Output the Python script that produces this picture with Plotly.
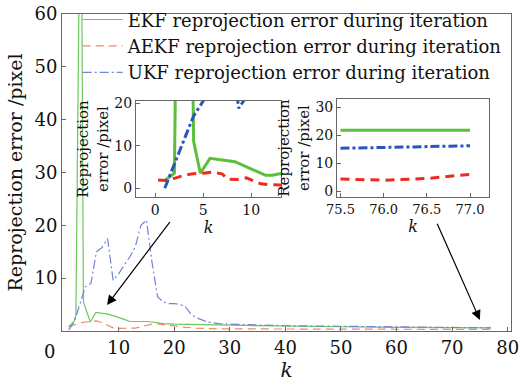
import plotly.graph_objects as go

# ---- main plot: reprojection error per iteration k ----
ekf_k = [1, 2, 2.3, 3.2, 3.65, 4.9, 5.9, 7, 8, 9, 10, 11, 12, 13, 14, 15, 16, 18, 20, 22, 25, 30, 35, 40, 50, 60, 70, 77]
ekf_err = [0.8, 1.8, 3.0, 100, 5.5, 1.7, 3.5, 3.4, 3.2, 2.9, 2.6, 2.2, 1.8, 1.8, 1.9, 1.8, 1.7, 1.4, 1.3, 1.3, 1.2, 1.1, 1.0, 0.9, 0.8, 0.7, 0.6, 0.6]

aekf_k = [1, 2, 3, 4, 5, 6, 7, 8, 9, 10, 11, 12, 13, 14, 15, 16, 17, 18, 19, 20, 22, 24, 26, 28, 30, 40, 50, 60, 70, 77]
aekf_err = [0.8, 1.2, 1.5, 1.7, 1.8, 1.9, 1.6, 1.1, 0.6, 0.5, 0.5, 0.5, 0.55, 0.8, 1.1, 1.3, 1.35, 1.2, 1.1, 0.9, 0.7, 0.55, 0.45, 0.4, 0.4, 0.35, 0.35, 0.3, 0.3, 0.3]

ukf_k = [1, 2, 3, 4, 5, 6, 7, 8, 9, 10, 11, 12, 13, 14, 15, 16, 17, 18, 19, 20, 21, 22, 23, 24, 26, 28, 30, 35, 40, 50, 60, 70, 77]
ukf_err = [0.2, 1.8, 5.0, 8.4, 9.0, 15.0, 15.8, 17.5, 9.6, 10.8, 12.5, 14.0, 16.0, 20.0, 21.0, 13.0, 6.5, 5.5, 5.2, 5.2, 5.0, 4.6, 3.2, 2.5, 1.7, 1.4, 1.3, 1.1, 1.0, 0.9, 0.8, 0.7, 0.6]

x_ticks = [10, 20, 30, 40, 50, 60, 70, 80]
y_ticks = [10, 20, 30, 40, 50, 60]

# ---- inset 1: early iterations ----
in1_ekf_k = [1, 2, 3, 4, 4.7, 5.7, 8.3, 11.5, 12.2, 13.2]
in1_ekf_err = [1.8, 3.5, 200, 11, 3.5, 7.0, 6.2, 3.0, 3.0, 3.5]
in1_aekf_k = [0.3, 1, 2, 3, 4, 5, 6, 7, 7.5, 8.5, 9.5, 10.5, 11, 12, 13.2]
in1_aekf_err = [1.9, 1.8, 2.3, 3.0, 3.4, 3.5, 3.8, 3.3, 2.1, 2.0, 2.4, 1.4, 1.0, 0.8, 0.7]
in1_ukf_k = [1, 2, 3, 4, 5, 6, 7, 8, 8.7, 9.2, 10, 11, 12, 13.2]
in1_ukf_err = [0.0, 5.6, 11.2, 17.0, 20.5, 25, 28, 30, 18.8, 20.5, 23, 25, 26, 27]
in1_x_ticks = [0, 5, 10]
in1_y_ticks = [0, 10, 20]

# ---- inset 2: final iterations ----
in2_k = [75.5, 76.0, 76.5, 77.0]
in2_ekf_err = [21.7, 21.7, 21.7, 21.7]
in2_aekf_err = [4.3, 3.9, 4.5, 6.0]
in2_ukf_err = [15.3, 15.6, 15.9, 16.2]
in2_x_ticks = [75.5, 76.0, 76.5, 77.0]
in2_x_labels = ["75.5", "76.0", "76.5", "77.0"]
in2_y_ticks = [0, 10, 20, 30]

SERIF = "DejaVu Serif"
FRAME = "#666666"

fig = go.Figure()

# main traces (thin)
fig.add_trace(go.Scatter(x=ekf_k, y=ekf_err, mode="lines", name="EKF reprojection error during iteration",
                         line=dict(color="#6cc85a", width=1.2)))
fig.add_trace(go.Scatter(x=aekf_k, y=aekf_err, mode="lines", name="AEKF reprojection error during iteration",
                         line=dict(color="#f2866c", width=1.2, dash="8px,5px")))
fig.add_trace(go.Scatter(x=ukf_k, y=ukf_err, mode="lines", name="UKF reprojection error during iteration",
                         line=dict(color="#7184d8", width=1.2, dash="9px,3px,2px,3px")))

# inset 1 traces (thick)
fig.add_trace(go.Scatter(x=in1_ekf_k, y=in1_ekf_err, mode="lines", xaxis="x2", yaxis="y2", showlegend=False,
                         line=dict(color="#5cbf3c", width=3)))
fig.add_trace(go.Scatter(x=in1_aekf_k, y=in1_aekf_err, mode="lines", xaxis="x2", yaxis="y2", showlegend=False,
                         line=dict(color="#ee2a1e", width=3, dash="9px,6px")))
fig.add_trace(go.Scatter(x=in1_ukf_k, y=in1_ukf_err, mode="lines", xaxis="x2", yaxis="y2", showlegend=False,
                         line=dict(color="#2a55c0", width=3, dash="9px,3px,3px,3px")))

# inset 2 traces (thick)
fig.add_trace(go.Scatter(x=in2_k, y=in2_ekf_err, mode="lines", xaxis="x3", yaxis="y3", showlegend=False,
                         line=dict(color="#5cbf3c", width=3)))
fig.add_trace(go.Scatter(x=in2_k, y=in2_aekf_err, mode="lines", xaxis="x3", yaxis="y3", showlegend=False,
                         line=dict(color="#ee2a1e", width=3, dash="9px,6px")))
fig.add_trace(go.Scatter(x=in2_k, y=in2_ukf_err, mode="lines", xaxis="x3", yaxis="y3", showlegend=False,
                         line=dict(color="#2a55c0", width=3, dash="9px,3px,3px,3px")))

axis_common = dict(showgrid=False, zeroline=False, showline=True, linecolor=FRAME, linewidth=1,
                   mirror=True, ticks="inside", tickcolor=FRAME, ticklen=4)

fig.update_layout(
    width=524, height=384,
    margin=dict(l=62, r=13, t=14, b=53, autoexpand=False),
    paper_bgcolor="white", plot_bgcolor="white",
    font=dict(family=SERIF, color="#111111"),
    xaxis=dict(range=[-0.2, 80.6], tickvals=x_ticks, ticktext=[str(v) for v in x_ticks],
               tickfont=dict(size=18), title=dict(text="<i>k</i>", font=dict(size=20), standoff=4),
               **axis_common),
    yaxis=dict(range=[0, 60], tickvals=y_ticks, tickfont=dict(size=18),
               title=dict(text="Reprojection error /pixel", font=dict(size=19), standoff=6),
               **axis_common),
    xaxis2=dict(domain=[0.1648, 0.4878], anchor="y2", range=[-2, 13.1], tickvals=in1_x_ticks,
                tickfont=dict(size=14), title=dict(text="<i>k</i>", font=dict(size=16), standoff=0),
                **axis_common),
    yaxis2=dict(domain=[0.4227, 0.7256], anchor="x2", range=[-2.1, 20.5], tickvals=in1_y_ticks,
                tickfont=dict(size=14),
                title=dict(text="Reprojection<br>error /pixel", font=dict(size=15), standoff=2),
                **axis_common),
    xaxis3=dict(domain=[0.6125, 0.951], anchor="y3", range=[75.46, 77.22], tickvals=in2_x_ticks,
                ticktext=in2_x_labels, tickfont=dict(size=13),
                title=dict(text="<i>k</i>", font=dict(size=16), standoff=0), **axis_common),
    yaxis3=dict(domain=[0.4227, 0.7319], anchor="x3", range=[-2.1, 32.9], tickvals=in2_y_ticks,
                tickfont=dict(size=14),
                title=dict(text="Reprojection<br>error /pixel", font=dict(size=15), standoff=2),
                **axis_common),
    legend=dict(x=0.035, y=1.04, xanchor="left", yanchor="top", bgcolor="rgba(0,0,0,0)",
                font=dict(size=18, family=SERIF), tracegroupgap=0, itemwidth=40),
    showlegend=True,
)

# zero label of the k axis, set left of the corner
fig.add_annotation(text="0", xref="paper", yref="paper", x=-0.012, y=-0.025, xanchor="right", yanchor="top",
                   showarrow=False, font=dict(size=18, family=SERIF))

# arrows pointing from each inset to the zoomed region
fig.add_annotation(x=7.9, y=4.9, ax=19.4, ay=20.9, xref="x", yref="y", axref="x", ayref="y",
                   showarrow=True, arrowhead=2, arrowsize=1.6, arrowwidth=1.2, arrowcolor="black", text="")
fig.add_annotation(x=75.0, y=2.1, ax=67.2, ay=20.6, xref="x", yref="y", axref="x", ayref="y",
                   showarrow=True, arrowhead=2, arrowsize=1.6, arrowwidth=1.2, arrowcolor="black", text="")

fig.write_html("out.html")
